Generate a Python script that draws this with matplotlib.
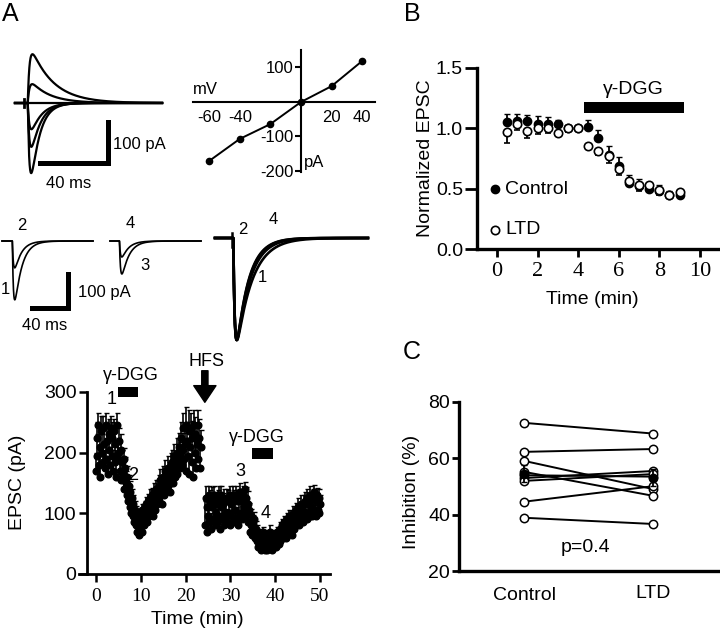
import numpy as np
import matplotlib
matplotlib.use('Agg')
import matplotlib.pyplot as plt

plt.rcParams['font.family'] = ['Liberation Sans', 'DejaVu Sans']
plt.rcParams['axes.unicode_minus'] = False
SERIF = ['Liberation Serif', 'DejaVu Serif']

# ---------------- data ----------------
# A (top): I-V relation and the example traces at each holding potential
iv_mv = [-60, -40, -20, 0, 20, 40]
iv_pa = [-171, -107, -64, 0, 46, 119]
iv_decay_ms = [5.0, 5.5, 6.0, 6.0, 11.0, 13.0]
iv_xticks = [-60, -40, 20, 40]
iv_yticks = [100, -100, -200]

# A (middle): example EPSCs at time points 1-4
pair_labels = ['1', '2', '3', '4']
pair_amp_pa = [-173, -79, -97, -47]
pair_decay_ms = [8.0, 7.5, 8.0, 7.5]
norm_decay_ms = [9.2, 7.2, 7.8, 7.0]

# A (bottom): EPSC time course, one sample every 10 s (rows = one minute)
tc_seg1 = [170, 225, 195, 245, 180, 210,
           160, 235, 200, 185, 240, 215,
           175, 245, 190, 220, 165, 230,
           205, 180, 240, 195, 225, 170,
           235, 185, 215, 160, 245, 200,
           190, 220, 170, 205, 155, 185,
           165, 190, 140, 175, 150, 130,
           160, 120, 145, 110, 135, 100,
           125, 95, 115, 85, 105, 80,
           100, 70, 90, 65, 95, 75,
           85, 105, 70, 95, 80, 110,
           90, 115, 85, 120, 100, 95,
           125, 100, 110, 130, 95, 120,
           135, 105, 125, 140, 115, 130,
           145, 120, 155, 130, 140, 115,
           160, 130, 150, 170, 140, 155,
           175, 145, 165, 135, 180, 155,
           185, 150, 170, 195, 160, 180,
           200, 165, 190, 210, 175, 195,
           225, 180, 205, 240, 190, 215,
           245, 170, 220, 195, 235, 165,
           210, 240, 185, 225, 160, 245,
           200, 230, 175, 215, 245, 190,
           225, 175, 210]
tc_err1 = [30, 25, 35, 20, 30, 25,
           35, 25, 30, 25, 20, 30,
           30, 20, 35, 25, 30, 25,
           25, 30, 20, 30, 25, 35,
           20, 30, 25, 35, 20, 25,
           25, 20, 30, 25, 30, 20,
           20, 18, 22, 18, 20, 18,
           18, 15, 18, 15, 18, 15,
           15, 12, 15, 12, 15, 12,
           12, 12, 12, 10, 12, 12,
           12, 10, 12, 12, 12, 10,
           12, 12, 12, 12, 12, 12,
           15, 12, 15, 12, 15, 12,
           15, 15, 15, 15, 15, 15,
           18, 15, 18, 15, 18, 15,
           18, 18, 18, 18, 18, 18,
           20, 18, 20, 18, 20, 18,
           20, 20, 22, 20, 22, 20,
           25, 22, 25, 22, 25, 22,
           25, 25, 28, 25, 28, 25,
           30, 28, 30, 25, 35, 30,
           30, 25, 35, 28, 30, 25,
           30, 28, 35, 30, 25, 30,
           30, 35, 28]
tc_seg2 = [80, 125, 70, 110,
           95, 130, 85, 120, 75, 110,
           125, 90, 130, 80, 115, 100,
           85, 120, 95, 130, 75, 110,
           130, 90, 115, 80, 125, 100,
           95, 125, 85, 120, 100, 130,
           80, 115, 95, 130, 85, 120,
           105, 130, 90, 120, 80, 125,
           95, 135, 100, 120, 90, 130,
           110, 140, 95, 125, 100, 115,
           85, 105, 70, 95, 80, 65,
           85, 70, 90, 60, 75, 55,
           70, 45, 65, 50, 60, 40,
           55, 70, 45, 60, 40, 65,
           50, 40, 60, 45, 55, 70,
           45, 60, 40, 55, 65, 50,
           60, 45, 70, 55, 65, 50,
           75, 55, 65, 80, 60, 70,
           85, 65, 75, 60, 90, 70,
           80, 95, 70, 85, 65, 90,
           100, 75, 90, 80, 105, 85,
           95, 110, 80, 100, 90, 115,
           105, 85, 115, 95, 120, 100,
           90, 125, 100, 115, 95, 130,
           110, 95, 125, 100, 135, 105,
           120, 95, 130, 105, 125, 100,
           115]
tc_err2 = [40, 20, 30, 20,
           25, 15, 20, 18, 25, 20,
           18, 22, 15, 25, 20, 18,
           22, 18, 20, 15, 25, 18,
           15, 20, 18, 22, 15, 20,
           20, 15, 22, 18, 20, 15,
           22, 18, 20, 15, 22, 18,
           18, 15, 20, 18, 22, 15,
           20, 15, 18, 20, 22, 15,
           18, 12, 20, 18, 20, 22,
           15, 12, 15, 12, 15, 12,
           12, 12, 12, 10, 12, 10,
           10, 12, 10, 12, 10, 12,
           10, 8, 10, 8, 10, 8,
           10, 12, 8, 10, 8, 10,
           10, 8, 12, 10, 8, 10,
           8, 10, 8, 10, 8, 10,
           10, 10, 10, 10, 10, 10,
           10, 12, 10, 12, 10, 12,
           12, 10, 12, 10, 12, 10,
           12, 12, 12, 12, 12, 12,
           12, 15, 12, 15, 12, 15,
           15, 12, 15, 12, 15, 12,
           15, 15, 15, 15, 15, 15,
           15, 12, 15, 18, 12, 15,
           15, 18, 12, 15, 15, 18,
           15]
tc_seg1_start, tc_seg2_start, tc_step = 0.0, 146 / 6, 1 / 6
tc_xticks = [0, 10, 20, 30, 40, 50]
tc_yticks = [0, 100, 200, 300]

# B: normalized EPSC
b_time = [0.5, 1.0, 1.5, 2.0, 2.5, 3.0, 3.5, 4.0, 4.5, 5.0, 5.5, 6.0, 6.5, 7.0, 7.5, 8.0, 8.5, 9.0]
b_ctrl = [1.05, 1.06, 1.06, 1.04, 1.04, 1.04, 1.00, 1.00, 1.01, 0.92, 0.78, 0.69, 0.55, 0.52, 0.50, 0.48, 0.45, 0.45]
b_ctrl_err = [0.07, 0.06, 0.05, 0.06, 0.05, 0.03, 0.03, 0.03, 0.06, 0.07, 0.07, 0.07, 0.06, 0.06, 0.05, 0.05, 0.03, 0.03]
b_ltd = [0.97, 1.04, 0.98, 1.00, 1.00, 0.96, 1.00, 1.00, 0.85, 0.81, 0.77, 0.66, 0.56, 0.53, 0.53, 0.49, 0.45, 0.47]
b_ltd_err = [0.09, 0.05, 0.06, 0.05, 0.04, 0.02, 0.03, 0.02, 0.02, 0.03, 0.06, 0.05, 0.04, 0.05, 0.04, 0.04, 0.02, 0.02]
b_xticks = [0, 2, 4, 6, 8, 10]
b_yticks = [0.0, 0.5, 1.0, 1.5]

# C: inhibition by gamma-DGG
c_groups = ['Control', 'LTD']
c_ctrl = [72.6, 62.3, 59.1, 55.2, 54.0, 53.0, 52.0, 44.6, 38.9]
c_ltd = [68.8, 63.3, 49.1, 46.7, 53.5, 55.5, 54.4, 50.1, 36.7]
c_mean = [54.6, 53.1]
c_sem = [3.0, 3.0]
c_yticks = [20, 40, 60, 80]

# ---------------- figure helpers ----------------
W, H = 720, 636
fig = plt.figure(figsize=(W / 100, H / 100), dpi=100)


def pax(x0, y0, x1, y1):
    return fig.add_axes([x0 / W, 1 - y1 / H, (x1 - x0) / W, (y1 - y0) / H])


def ptxt(x, y, s, size=12, ha='center', va='center', **kw):
    fig.text(x / W, 1 - y / H, s, fontsize=size, ha=ha, va=va, **kw)


def epsc(t, amp, t0, tr, td):
    s = np.clip(t - t0, 0, None)
    w = np.exp(-s / td) - np.exp(-s / tr)
    return amp * w / w.max()


def blank(ax):
    ax.set_axis_off()


# ---------------- A top-left: traces ----------------
ax = pax(10, 45, 175, 195)
blank(ax)
ax.set_xlim(-2.94, 94.1)
ax.set_ylim(-224.4, 141.5)
tt = np.linspace(0, 86.5, 2000)
for amp, td in zip(iv_pa, iv_decay_ms):
    ax.plot(tt, epsc(tt, amp, 7.5, 1.0, td), color='k', lw=1.6)
ax.plot([5.3, 5.3], [-10, 10], color='k', lw=2)
ax.plot([14.7, 54.7, 54.7], [-146, -146, -46], color='k', lw=3.6, solid_joinstyle='miter')
ptxt(113, 145, '100 pA', 12, ha='left')
ptxt(46, 183, '40 ms', 12, ha='left')

# ---------------- A top-right: I-V ----------------
ax = pax(190, 45, 380, 180)
ax.set_xlim(-72.5, 51.6)
ax.set_ylim(-226.1, 165.2)
ax.patch.set_alpha(0)
for s in ['top', 'right']:
    ax.spines[s].set_visible(False)
ax.spines['left'].set_position(('data', 0))
ax.spines['bottom'].set_position(('data', 0))
ax.spines['left'].set_bounds(-203, 151)
ax.spines['bottom'].set_bounds(-70.6, 48.4)
for s in ['left', 'bottom']:
    ax.spines[s].set_linewidth(1.5)
ax.plot(iv_mv, iv_pa, '-o', color='k', ms=4.5, lw=1.4, clip_on=False, zorder=5)
ax.set_xticks(iv_xticks)
ax.set_xticklabels([str(v) for v in iv_xticks])
ax.set_yticks(iv_yticks)
ax.set_yticklabels([str(v) for v in iv_yticks])
ax.tick_params(axis='x', length=0, pad=5.5, labelsize=12)
ax.tick_params(axis='y', length=4, width=1.5, pad=1.5, labelsize=12)
ptxt(193, 89, 'mV', 12, ha='left')
ptxt(304, 163, 'pA', 12, ha='left')

# ---------------- A middle: pairs 1/2 and 3/4 ----------------
for (x0, x1, base_x, t0, idx, bar) in [(0, 100, 2, 11.5, (0, 1), True), (105, 205, 110, 10.5, (2, 3), False)]:
    ax = pax(x0, 205, x1, 330)
    blank(ax)
    ax.set_xlim((x0 - base_x) / 0.9, (x1 - base_x) / 0.9)
    ax.set_ylim((241 - 330) / 0.34, (241 - 205) / 0.34)
    tt = np.linspace(0, (93 - 2) / 0.9, 1500)
    for i in idx:
        ax.plot(tt, epsc(tt, pair_amp_pa[i], t0, 1.2, pair_decay_ms[i]), color='k', lw=1.2)
    if bar:
        ax.plot([33.3, 73.3, 73.3], [-197, -197, -97], color='k', lw=3.6, solid_joinstyle='miter')
ptxt(78, 292, '100 pA', 12, ha='left')
ptxt(22, 325, '40 ms', 12, ha='left')
ptxt(22, 225, pair_labels[1], 12)
ptxt(5, 290, pair_labels[0], 12)
ptxt(130, 223, pair_labels[3], 12)
ptxt(145, 265, pair_labels[2], 12)

# ---------------- A middle: normalized overlay ----------------
ax = pax(212, 215, 372, 350)
blank(ax)
ax.set_xlim(-1.76, 92.4)
ax.set_ylim(-1.098, 0.2255)
tt = np.linspace(0, 90, 2000)
for i in [3, 2, 1, 0]:
    ax.plot(tt, epsc(tt, -1.0, 10.8, 0.8, norm_decay_ms[i]), color='k', lw=1.9)
ax.plot([9.8, 9.8], [0.05, -0.09], color='k', lw=1.8)
ptxt(243, 230, pair_labels[1], 12)
ptxt(273, 220, pair_labels[3], 12)
ptxt(262, 277, pair_labels[0], 12)

# ---------------- A bottom: time course ----------------
ax = pax(79, 392, 330, 574)
ax.patch.set_alpha(0)
ax.set_xlim(-3.79, 52.23)
ax.set_ylim(0, 300)
for s in ['top', 'right']:
    ax.spines[s].set_visible(False)
ax.spines['left'].set_position(('data', -2))
for s in ['left', 'bottom']:
    ax.spines[s].set_linewidth(2)
t1 = tc_seg1_start + tc_step * np.arange(len(tc_seg1))
t2 = tc_seg2_start + tc_step * np.arange(len(tc_seg2))
for tx, vv, ee in [(t1, tc_seg1, tc_err1), (t2, tc_seg2, tc_err2)]:
    ax.errorbar(tx, vv, yerr=[np.zeros(len(ee)), ee], fmt='o', color='k', ms=4.8,
                elinewidth=1.2, capsize=1.8, capthick=1, clip_on=False)
ax.barh(300, 4.5, left=4.9, height=16, color='k', clip_on=False)
ax.barh(198.5, 4.7, left=34.8, height=18, color='k', clip_on=False)
ax.annotate('', xy=(24.3, 283), xytext=(24.3, 335), annotation_clip=False,
            arrowprops=dict(width=4.5, headwidth=16, headlength=12, color='k'))
ax.set_xticks(tc_xticks)
ax.set_xticklabels([str(v) for v in tc_xticks], fontfamily=SERIF, fontsize=14)
ax.set_yticks(tc_yticks)
ax.set_yticklabels([str(v) for v in tc_yticks], fontsize=14)
ax.tick_params(axis='x', length=6, width=1.8, pad=4)
ax.tick_params(axis='y', length=6, width=1.8, pad=1.5)
ptxt(131, 375, '\u03b3-DGG', 13)
ptxt(257, 437, '\u03b3-DGG', 13)
ptxt(206, 362, 'HFS', 13)
ptxt(112, 400, '1', 13)
ptxt(133, 475, '2', 13)
ptxt(240, 472, '3', 13)
ptxt(266, 514, '4', 13)
ptxt(18, 482, 'EPSC (pA)', 14, rotation=90)
ptxt(197, 620, 'Time (min)', 14)

# ---------------- B ----------------
ax = pax(477, 68, 720, 249)
ax.patch.set_alpha(0)
ax.set_xlim(-0.985, 10.99)
ax.set_ylim(0, 1.5)
for s in ['top', 'right']:
    ax.spines[s].set_visible(False)
for s in ['left', 'bottom']:
    ax.spines[s].set_linewidth(2.4)
ax.errorbar(b_time, b_ltd, yerr=[b_ltd_err, np.zeros(len(b_ltd_err))], fmt='o', color='k',
            mfc='white', mec='k', mew=1.2, ms=6, elinewidth=1.3, capsize=2, clip_on=False, zorder=3)
ax.errorbar(b_time, b_ctrl, yerr=[np.zeros(len(b_ctrl_err)), b_ctrl_err], fmt='o', color='k',
            ms=6, elinewidth=1.3, capsize=2, clip_on=False, zorder=2)
ax.barh(1.17, 4.9, left=4.3, height=0.09, color='k')
ax.set_xticks(b_xticks)
ax.set_xticklabels([str(v) for v in b_xticks], fontfamily=SERIF, fontsize=16)
ax.set_yticks(b_yticks)
ax.set_yticklabels(['%.1f' % v for v in b_yticks], fontsize=14)
ax.tick_params(axis='x', length=6, width=2, pad=3)
ax.tick_params(axis='y', length=9, width=2, pad=1)
ax.plot([-0.1], [0.5], 'o', color='k', ms=6, clip_on=False)
ax.plot([-0.1], [0.157], 'o', color='k', mfc='white', mew=1.2, ms=6, clip_on=False)
ptxt(505, 189, 'Control', 14, ha='left')
ptxt(505, 230, 'LTD', 14, ha='left')
ptxt(633, 90, '\u03b3-DGG', 14)
ptxt(425, 158, 'Normalized EPSC', 14, rotation=90)
ptxt(592, 300, 'Time (min)', 14)

# ---------------- C ----------------
ax = pax(459, 402, 720, 571)
ax.patch.set_alpha(0)
ax.set_xlim(-0.504, 1.519)
ax.set_ylim(20, 80)
for s in ['top', 'right']:
    ax.spines[s].set_visible(False)
for s in ['left', 'bottom']:
    ax.spines[s].set_linewidth(2.4)
for a, b in zip(c_ctrl, c_ltd):
    ax.plot([0, 1], [a, b], '-o', color='k', lw=1.4, mfc='white', mec='k', mew=1.1, ms=6, clip_on=False)
ax.errorbar([0, 1], c_mean, yerr=c_sem, fmt='o', color='k', ms=6, elinewidth=1.3, capsize=2,
            clip_on=False, zorder=5)
ax.set_xticks([])
ax.set_yticks(c_yticks)
ax.set_yticklabels([str(v) for v in c_yticks], fontsize=14)
ax.tick_params(axis='y', length=5, width=2, pad=1.5)
ptxt(524, 595, c_groups[0], 14)
ptxt(653, 593, c_groups[1], 14)
ptxt(585, 548, 'p=0.4', 14)
ptxt(411, 492, 'Inhibition (%)', 14, rotation=90)

# panel letters
ptxt(10, 14, 'A', 18)
ptxt(412, 14, 'B', 18)
ptxt(412, 352, 'C', 18)

fig.savefig('out.png', dpi=100)
